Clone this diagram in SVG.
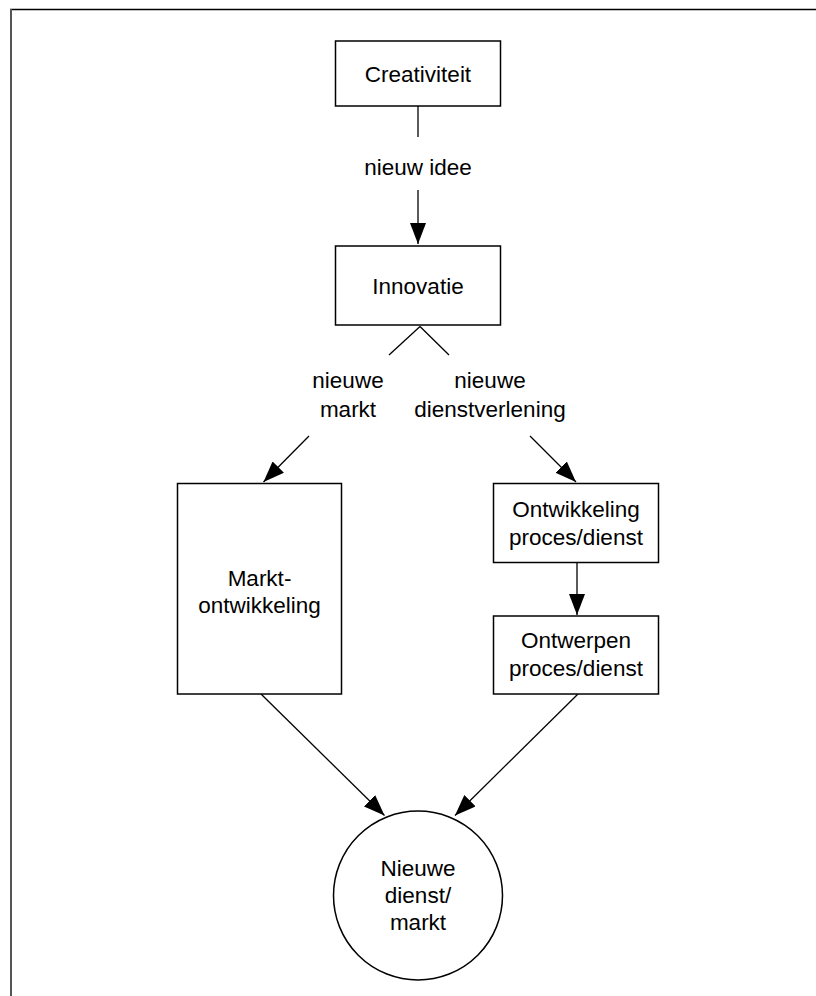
<svg xmlns="http://www.w3.org/2000/svg" width="816" height="996" viewBox="0 0 816 996">
<style>
.box{fill:#fff;stroke:#000;stroke-width:1.5}
.t{font-family:"Liberation Sans",Arial,sans-serif;font-size:22.5px;fill:#000;text-anchor:middle}
.c{stroke:#000;stroke-width:1.3;fill:none}
</style>
<defs>
<marker id="ah" markerUnits="userSpaceOnUse" markerWidth="22" markerHeight="16" viewBox="0 0 22 16" refX="21" refY="8" orient="auto">
<path d="M0,0 L21,8 L0,16 Z" fill="#000"/>
</marker>
</defs>
<rect width="816" height="996" fill="#fff"/>
<g id="frame">
<line x1="10" y1="9.5" x2="816" y2="9.5" stroke="#000" stroke-width="1.5"/>
<line x1="11" y1="9" x2="11" y2="996" stroke="#555" stroke-width="2"/>
</g>
<g id="connectors">
<line class="c" x1="418" y1="106" x2="418" y2="137"/>
<line class="c" x1="418" y1="190" x2="418" y2="244" marker-end="url(#ah)"/>
<line class="c" x1="420" y1="326.5" x2="389" y2="355"/>
<line class="c" x1="420" y1="326.5" x2="449" y2="355"/>
<line class="c" x1="309" y1="436" x2="263.5" y2="482" marker-end="url(#ah)"/>
<line class="c" x1="530" y1="436" x2="576" y2="482" marker-end="url(#ah)"/>
<line class="c" x1="577" y1="562.5" x2="577" y2="615" marker-end="url(#ah)"/>
<line class="c" x1="261" y1="694" x2="384.5" y2="815.5" marker-end="url(#ah)"/>
<line class="c" x1="578" y1="694" x2="455" y2="815.5" marker-end="url(#ah)"/>
</g>
<g id="labels">
<text class="t" x="418" y="175">nieuw idee</text>
<text class="t" x="348" y="388">nieuwe</text>
<text class="t" x="348" y="417">markt</text>
<text class="t" x="490" y="388">nieuwe</text>
<text class="t" x="490" y="417">dienstverlening</text>
</g>
<g id="creativiteit">
<rect class="box" x="335.5" y="41" width="165" height="65"/>
<text class="t" x="418" y="82">Creativiteit</text>
</g>
<g id="innovatie">
<rect class="box" x="335.5" y="246" width="165" height="79"/>
<text class="t" x="418" y="294">Innovatie</text>
</g>
<g id="marktontwikkeling">
<rect class="box" x="177.5" y="483.5" width="164" height="210.5"/>
<text class="t" x="259.5" y="586">Markt-</text>
<text class="t" x="259.5" y="613">ontwikkeling</text>
</g>
<g id="ontwikkeling">
<rect class="box" x="493.5" y="483.5" width="165" height="79"/>
<text class="t" x="576" y="517">Ontwikkeling</text>
<text class="t" x="576" y="545">proces/dienst</text>
</g>
<g id="ontwerpen">
<rect class="box" x="493.5" y="616" width="165" height="78"/>
<text class="t" x="576" y="648">Ontwerpen</text>
<text class="t" x="576" y="676">proces/dienst</text>
</g>
<g id="nieuwe-dienst">
<circle class="box" cx="418" cy="895.5" r="84.5"/>
<text class="t" x="418" y="876">Nieuwe</text>
<text class="t" x="418" y="903">dienst/</text>
<text class="t" x="418" y="930">markt</text>
</g>
</svg>
